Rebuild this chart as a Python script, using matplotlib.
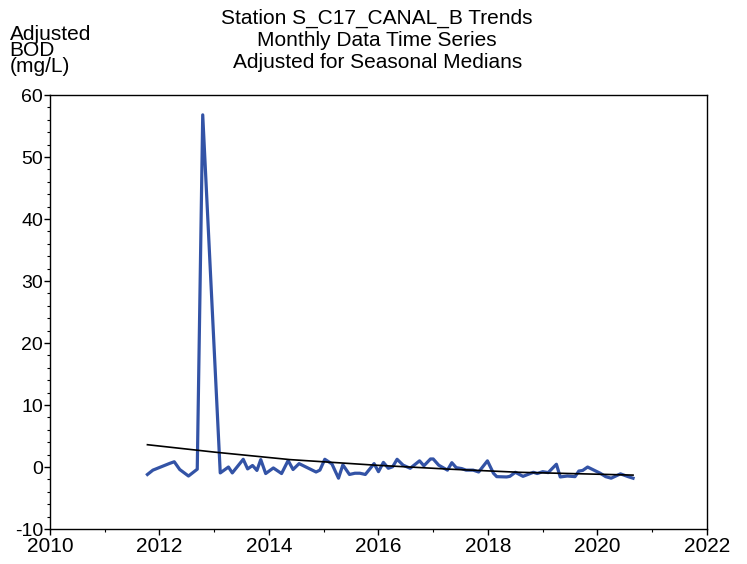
import numpy as np
import matplotlib
matplotlib.use("Agg")
import matplotlib.pyplot as plt
from matplotlib.ticker import MultipleLocator

plt.rcParams["font.family"] = ["Liberation Sans", "DejaVu Sans"]
plt.rcParams["axes.unicode_minus"] = False

# adjusted monthly BOD values (decimal year, mg/L)
years = [2011.78, 2011.88, 2012.19, 2012.27, 2012.37, 2012.53, 2012.69, 2012.79,
         2013.11, 2013.26, 2013.33, 2013.53, 2013.61, 2013.70, 2013.78, 2013.85,
         2013.94, 2014.08, 2014.23, 2014.35, 2014.44, 2014.55, 2014.86, 2014.93,
         2015.02, 2015.15, 2015.27, 2015.35, 2015.47, 2015.57, 2015.66, 2015.76,
         2015.92, 2016.00, 2016.09, 2016.18, 2016.26, 2016.34, 2016.45, 2016.58,
         2016.75, 2016.83, 2016.95, 2017.00, 2017.10, 2017.26, 2017.34, 2017.42,
         2017.52, 2017.60, 2017.73, 2017.83, 2017.99, 2018.10, 2018.16, 2018.34,
         2018.40, 2018.50, 2018.64, 2018.83, 2018.90, 2019.00, 2019.10, 2019.25,
         2019.32, 2019.45, 2019.59, 2019.66, 2019.73, 2019.82, 2020.05, 2020.15,
         2020.25, 2020.42, 2020.56, 2020.65]
bod = [-1.2, -0.5, 0.6, 0.85, -0.4, -1.45, -0.35, 56.8,
       -0.95, 0.0, -0.95, 1.25, -0.3, 0.25, -0.55, 1.2,
       -1.05, -0.15, -1.05, 1.05, -0.4, 0.55, -0.8, -0.5,
       1.25, 0.5, -1.8, 0.35, -1.2, -1.0, -1.0, -1.2,
       0.55, -0.75, 0.75, -0.2, 0.05, 1.25, 0.3, -0.2,
       1.0, 0.2, 1.3, 1.3, 0.3, -0.5, 0.7, -0.1,
       -0.25, -0.5, -0.5, -0.8, 1.0, -1.0, -1.55, -1.6,
       -1.5, -0.85, -1.5, -0.85, -1.05, -0.75, -0.9, 0.45,
       -1.6, -1.45, -1.55, -0.65, -0.55, 0.0, -1.0, -1.55,
       -1.8, -1.1, -1.55, -1.8]

# trend curve
trend_years = [2011.78, 2013.01, 2014.38, 2015.94, 2017.31, 2018.58, 2020.65]
trend_vals = [3.6, 2.4, 1.2, 0.3, -0.35, -0.85, -1.3]

fig = plt.figure(figsize=(7.47, 5.64), dpi=100)
ax = fig.add_axes([0.0669, 0.062, 0.8795, 0.7695])

ax.plot(years, bod, color="#3353a6", lw=2.3, solid_joinstyle="round")
ax.plot(trend_years, trend_vals, color="black", lw=1.2)

ax.set_xlim(2010, 2022)
ax.set_ylim(-10, 60)
ax.xaxis.set_major_locator(MultipleLocator(2))
ax.xaxis.set_minor_locator(MultipleLocator(1))
ax.yaxis.set_major_locator(MultipleLocator(10))
ax.yaxis.set_minor_locator(MultipleLocator(2))
ax.tick_params(which="major", length=4, width=1, pad=1)
ax.tick_params(axis="x", which="major", labelsize=15, pad=2)
ax.tick_params(axis="y", which="major", labelsize=14)
ax.tick_params(which="minor", length=2, width=0.8)
for s in ax.spines.values():
    s.set_linewidth(1)

fig.text(0.505, 0.985, "Station S_C17_CANAL_B Trends\nMonthly Data Time Series\nAdjusted for Seasonal Medians",
         ha="center", va="top", fontsize=15, linespacing=1.2)
fig.text(0.013, 0.955, "Adjusted\nBOD\n(mg/L)", ha="left", va="top",
         fontsize=15, linespacing=0.8)

fig.savefig("out.png", dpi=100)
